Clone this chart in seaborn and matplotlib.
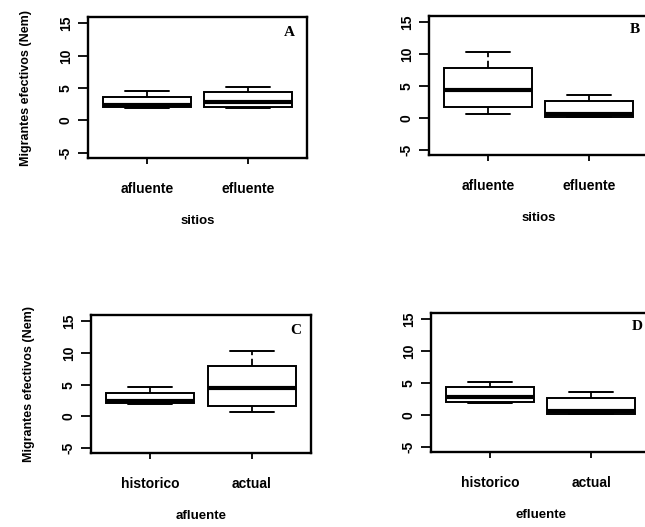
import matplotlib
matplotlib.use("Agg")
import matplotlib.pyplot as plt
import seaborn as sns
import pandas as pd

# five-number summaries (min, q1, median, q3, max)
hist_afluente = [2.0, 2.1, 2.4, 3.7, 4.6]
hist_efluente = [1.9, 2.1, 2.8, 4.4, 5.2]
act_afluente = [0.6, 1.7, 4.4, 7.9, 10.3]
act_efluente = [0.1, 0.1, 0.6, 2.6, 3.6]

sitios = ["afluente", "efluente"]
periodos = ["historico", "actual"]
yticks = [-5, 0, 5, 10, 15]
ylabel = "Migrantes efectivos (Nem)"

panels = [
    ("A", sitios, [hist_afluente, hist_efluente], "sitios", True),
    ("B", sitios, [act_afluente, act_efluente], "sitios", False),
    ("C", periodos, [hist_afluente, act_afluente], "afluente", True),
    ("D", periodos, [hist_efluente, act_efluente], "efluente", False),
]

sns.set_style("white")
plt.rcParams["font.family"] = ["Liberation Sans", "DejaVu Sans"]
plt.rcParams["text.color"] = "black"
plt.rcParams["axes.labelcolor"] = "black"
plt.rcParams["xtick.color"] = "black"
plt.rcParams["ytick.color"] = "black"

fig = plt.figure(figsize=(6.45, 5.27), dpi=100)
W, H = 645, 527
rects = [
    (88, 17, 219, 141),
    (429, 16, 219, 139),
    (91, 315, 220, 138),
    (431, 313, 219, 139),
]
letter_pos = [(0.92, 0.89), (0.94, 0.90), (0.93, 0.89), (0.94, 0.90)]

for (letter, cats, vals, xlab, showy), (l, t, w, h), lp in zip(panels, rects, letter_pos):
    ax = fig.add_axes([l / W, 1 - (t + h) / H, w / W, h / H])
    rows = []
    for c, v in zip(cats, vals):
        for x in v:
            rows.append({"grp": c, "val": x})
    df = pd.DataFrame(rows)
    sns.boxplot(data=df, x="grp", y="val", order=cats, whis=(0, 100), width=0.87,
                color="white", linecolor="black", linewidth=1.4, showfliers=False,
                medianprops=dict(linewidth=3, color="black"),
                whiskerprops=dict(linestyle=(0, (4, 2)), linewidth=1.3),
                capprops=dict(linewidth=1.4), ax=ax)
    ax.set_xlim(-0.58, 1.58)
    ax.set_ylim(-5.8, 16.0)
    ax.set_yticks(yticks)
    ax.set_yticklabels([str(v) for v in yticks], rotation=90, va="center",
                       fontsize=10, fontweight="bold")
    ax.set_xticks([0, 1])
    ax.set_xticklabels(cats, fontsize=10, fontweight="bold")
    ax.tick_params(axis="y", direction="out", length=7, width=1.3, pad=4, left=True)
    ax.tick_params(axis="x", direction="out", length=4, width=1.3, pad=13, bottom=True)
    for s in ax.spines.values():
        s.set_visible(True)
        s.set_linewidth(1.7)
        s.set_color("black")
    ax.set_xlabel(xlab, fontsize=9.5, fontweight="bold", labelpad=14)
    if showy:
        ax.set_ylabel(ylabel, fontsize=9, fontweight="bold", labelpad=19)
    else:
        ax.set_ylabel("")
    ax.text(lp[0], lp[1], letter, transform=ax.transAxes, ha="center", va="center",
            fontsize=11, fontweight="bold", family="Liberation Serif")

fig.savefig("out.png", dpi=100)
